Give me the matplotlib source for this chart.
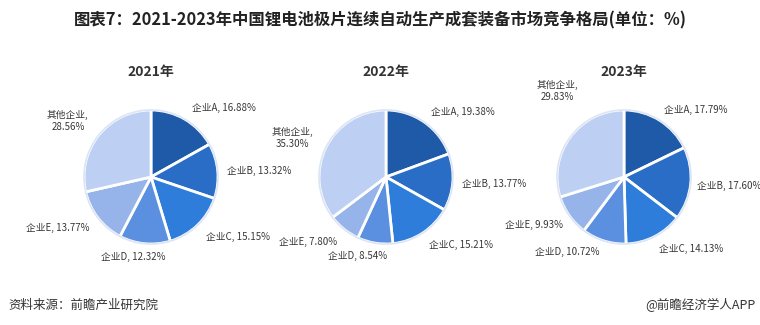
import matplotlib.pyplot as plt

plt.rcParams['font.family'] = ['Noto Sans CJK SC', 'DejaVu Sans']

# data
years = ['2021年', '2022年', '2023年']
companies = ['企业A', '企业B', '企业C', '企业D', '企业E', '其他企业']
share_2021 = [16.88, 13.32, 15.15, 12.32, 13.77, 28.56]
share_2022 = [19.38, 13.77, 15.21, 8.54, 7.80, 35.30]
share_2023 = [17.79, 17.60, 14.13, 10.72, 9.93, 29.83]
shares = [share_2021, share_2022, share_2023]

colors = ['#1f5aa8', '#2a6dc6', '#2f7ddb', '#5b8fe0', '#96b3ea', '#bdcff3']

# label positions, in units of pie radius (A..E, other)
label_pos = [
    [(1.09, 1.03), (1.61, 0.09), (1.30, -0.90), (-0.27, -1.19), (-1.39, -0.76), (-1.24, 0.84)],
    [(1.15, 0.97), (1.61, -0.10), (1.12, -1.01), (-0.43, -1.18), (-1.16, -0.97), (-1.39, 0.58)],
    [(1.07, 1.00), (1.57, -0.13), (1.00, -1.07), (-0.84, -1.12), (-1.34, -0.71), (-1.00, 1.28)],
]

W, H = 760, 325
fig = plt.figure(figsize=(W / 100, H / 100), dpi=100)

fig.text(380 / W, 1 - 20 / H, '图表7：2021-2023年中国锂电池极片连续自动生产成套装备市场竞争格局(单位：%)',
         ha='center', va='center', fontsize=11.8, fontweight='bold', color='#222222')

centers = [151, 386, 624]
cy = 177
r = 67
half = 2.0  # axes half-width in radii

for i, year in enumerate(years):
    cx = centers[i]
    ax = fig.add_axes([(cx - half * r) / W, (H - cy - half * r) / H,
                       2 * half * r / W, 2 * half * r / H])
    ax.pie(shares[i], colors=colors, startangle=90, counterclock=False, radius=1,
           wedgeprops=dict(edgecolor='white', linewidth=2))
    # thin light rim around pie
    ax.add_patch(plt.Circle((0, 0), 1.0, fill=False, ec='#dce5f4', lw=1.2))
    ax.set_xlim(-half, half)
    ax.set_ylim(-half, half)
    ax.set_aspect('equal')
    ax.axis('off')
    ax.text(0, (cy - 72) / r, year, ha='center', va='center', fontsize=10,
            fontweight='bold', color='#333333')
    for name, val, (lx, ly) in zip(companies, shares[i], label_pos[i]):
        if name == '其他企业':
            s = f'{name},\n{val:.2f}%'
        else:
            s = f'{name}, {val:.2f}%'
        ax.text(lx, ly, s, ha='center', va='center', fontsize=7, color='#383838',
                linespacing=1.3)

fig.text(8 / W, 1 - 305 / H, '资料来源：前瞻产业研究院', ha='left', va='center',
         fontsize=9, color='#333333')
fig.text(756 / W, 1 - 305 / H, '@前瞻经济学人APP', ha='right', va='center',
         fontsize=9, color='#333333')

fig.savefig('out.png', dpi=100)
